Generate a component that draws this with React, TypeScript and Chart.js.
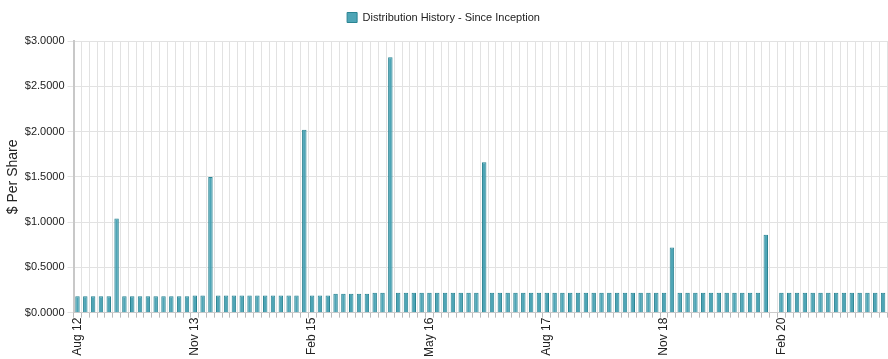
import React, { useEffect, useRef } from "react";
import { Chart, registerables } from "chart.js";

Chart.register(...registerables);

const months: string[] = [
  "Aug 12", "Sep 12", "Oct 12", "Nov 12", "Dec 12",
  "Jan 13", "Feb 13", "Mar 13", "Apr 13", "May 13", "Jun 13", "Jul 13", "Aug 13", "Sep 13", "Oct 13", "Nov 13", "Dec 13",
  "Jan 14", "Feb 14", "Mar 14", "Apr 14", "May 14", "Jun 14", "Jul 14", "Aug 14", "Sep 14", "Oct 14", "Nov 14", "Dec 14",
  "Jan 15", "Feb 15", "Mar 15", "Apr 15", "May 15", "Jun 15", "Jul 15", "Aug 15", "Sep 15", "Oct 15", "Nov 15", "Dec 15",
  "Jan 16", "Feb 16", "Mar 16", "Apr 16", "May 16", "Jun 16", "Jul 16", "Aug 16", "Sep 16", "Oct 16", "Nov 16", "Dec 16",
  "Jan 17", "Feb 17", "Mar 17", "Apr 17", "May 17", "Jun 17", "Jul 17", "Aug 17", "Sep 17", "Oct 17", "Nov 17", "Dec 17",
  "Jan 18", "Feb 18", "Mar 18", "Apr 18", "May 18", "Jun 18", "Jul 18", "Aug 18", "Sep 18", "Oct 18", "Nov 18", "Dec 18",
  "Jan 19", "Feb 19", "Mar 19", "Apr 19", "May 19", "Jun 19", "Jul 19", "Aug 19", "Sep 19", "Oct 19", "Nov 19", "Dec 19",
  "Jan 20", "Feb 20", "Mar 20", "Apr 20", "May 20", "Jun 20", "Jul 20", "Aug 20", "Sep 20", "Oct 20", "Nov 20", "Dec 20",
  "Jan 21", "Feb 21", "Mar 21",
];

const distributions: (number | null)[] = [
  // 2012 Aug-Dec
  0.18, 0.18, 0.18, 0.18, 0.18,
  // 2013
  1.04, 0.18, 0.18, 0.18, 0.18, 0.18, 0.18, 0.18, 0.18, 0.18, 0.19, 0.19,
  // 2014
  1.497, 0.19, 0.19, 0.19, 0.19, 0.19, 0.19, 0.19, 0.19, 0.19, 0.19, 0.19,
  // 2015
  2.02, 0.19, 0.19, 0.19, 0.21, 0.21, 0.21, 0.21, 0.21, 0.22, 0.22, 2.82,
  // 2016
  0.22, 0.22, 0.22, 0.22, 0.22, 0.22, 0.22, 0.22, 0.22, 0.22, 0.22, 1.66,
  // 2017
  0.22, 0.22, 0.22, 0.22, 0.22, 0.22, 0.22, 0.22, 0.22, 0.22, 0.22, 0.22,
  // 2018
  0.22, 0.22, 0.22, 0.22, 0.22, 0.22, 0.22, 0.22, 0.22, 0.22, 0.22, 0.72,
  // 2019
  0.22, 0.22, 0.22, 0.22, 0.22, 0.22, 0.22, 0.22, 0.22, 0.22, 0.22, 0.86,
  // 2020
  null, 0.22, 0.22, 0.22, 0.22, 0.22, 0.22, 0.22, 0.22, 0.22, 0.22, 0.22,
  // 2021 Jan-Mar
  0.22, 0.22, 0.22,
];

const yTicks: number[] = [0, 0.5, 1, 1.5, 2, 2.5, 3];
const labelEvery = 15;

const legendSpacer = {
  id: "legendSpacer",
  beforeInit(chart: any) {
    const legend = chart.legend;
    if (!legend) return;
    const origFit = legend.fit;
    legend.fit = function () {
      origFit.bind(legend)();
      legend.height += 8;
    };
  },
};

export default function App() {
  const canvasRef = useRef<HTMLCanvasElement | null>(null);

  useEffect(() => {
    document.body.style.margin = "0";
    const canvas = canvasRef.current;
    if (!canvas) return;
    const font = "'Liberation Sans', Arial, sans-serif";
    const chart = new Chart(canvas, {
      type: "bar",
      plugins: [legendSpacer],
      data: {
        labels: months,
        datasets: [
          {
            label: "Distribution History - Since Inception",
            data: distributions,
            backgroundColor: "rgba(68, 160, 178, 0.95)",
            borderColor: "#2a8492",
            borderWidth: 1,
            categoryPercentage: 1,
            barPercentage: 0.57,
          },
        ],
      },
      options: {
        animation: false,
        responsive: false,
        maintainAspectRatio: false,
        layout: { padding: { left: 0, right: 1, top: 2, bottom: 2 } },
        plugins: {
          legend: {
            display: true,
            position: "top",
            labels: {
              boxWidth: 10,
              boxHeight: 10,
              color: "#222",
              font: { family: font, size: 11 },
              padding: 10,
            },
          },
          tooltip: { enabled: false },
        },
        scales: {
          x: {
            afterFit: (axis: any) => {
              axis.paddingRight = 0;
            },
            grid: {
              color: "#e2e2e2",
              offset: true,
              tickLength: 5,
              tickColor: "#bbbbbb",
            },
            border: { color: "#cccccc" },
            ticks: {
              autoSkip: false,
              maxRotation: 90,
              minRotation: 90,
              color: "#222",
              font: { family: font, size: 12 },
              padding: 0,
              callback: (_v: any, i: number) => (i % labelEvery === 0 ? months[i] : ""),
            },
          },
          y: {
            min: yTicks[0],
            max: yTicks[yTicks.length - 1],
            afterBuildTicks: (axis: any) => {
              axis.ticks = yTicks.map((v) => ({ value: v }));
            },
            grid: {
              color: "#e2e2e2",
              tickLength: 6,
              tickColor: "#e2e2e2",
            },
            border: { color: "#c8c8c8", width: 2 },
            ticks: {
              color: "#222",
              font: { family: font, size: 11 },
              padding: 3,
              callback: (v: any) => "$" + Number(v).toFixed(4),
            },
            title: {
              display: true,
              text: "$ Per Share",
              color: "#222",
              font: { family: font, size: 14 },
              padding: { top: 5, bottom: 0 },
            },
          },
        },
      },
    });
    return () => chart.destroy();
  }, []);

  return (
    <div style={{ width: 888, height: 359 }}>
      <canvas ref={canvasRef} width={888} height={359} style={{ display: "block" }} />
    </div>
  );
}
